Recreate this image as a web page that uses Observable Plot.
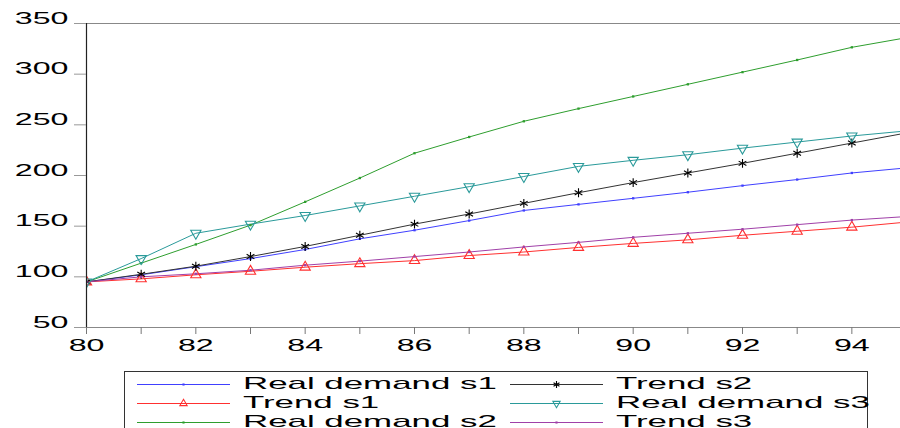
<!DOCTYPE html>
<html><head><meta charset="utf-8">
<script src="https://cdn.jsdelivr.net/npm/d3@7"></script>
<script src="https://cdn.jsdelivr.net/npm/@observablehq/plot@0.6"></script>
<style>
body{margin:0;background:#fff;overflow:hidden;width:900px;height:428px;font-family:"Liberation Sans",Arial,sans-serif}
#wrap{position:relative;width:900px;height:428px;overflow:hidden}
#chart{position:absolute;left:0;top:0}
#legend{position:absolute;left:124px;top:371px;width:744px;height:80px;border:1px solid #333;box-sizing:border-box;background:#fff}
.item{position:absolute;height:20px;width:360px}
.item svg{position:absolute;left:0;top:0}
.item span{position:absolute;left:106px;top:0;font-size:17px;line-height:20px;white-space:nowrap;color:#000;display:inline-block;transform:scaleX(2.05);transform-origin:0 50%}
</style>
</head><body>
<div id="wrap"><div id="chart"></div><div id="legend"></div></div>
<script>
const years = [80,81,82,83,84,85,86,87,88,89,90,91,92,93,94,95];
const realDemandS1 = [95,102,110,118,127,137.5,146,155.5,165.5,171.5,177.5,183.5,190,196,202.5,207.5];
const trendS1      = [95,98,102,105.5,109.5,113,116,121,124.5,129,133,136.5,141,145,149,154];
const realDemandS2 = [95,113.5,132,151,174,197.5,222,238,253.5,266,278,290,302,314,326.5,336];
const trendS2      = [95,102.5,110.5,120,130,141,152,162,172.5,183,193,202.5,212,222,232,242];
const realDemandS3 = [95,118,143,152,160.5,170,179.5,189,199,209,215,220.5,227,233,239,244];
const trendS3      = [95,100,103,106.5,111.5,115.5,120,124.5,129.5,134,139,143,147,151.5,156,159.5];
const yTicks = [50,100,150,200,250,300,350];
const xTicks = [80,81,82,83,84,85,86,87,88,89,90,91,92,93,94];

const sqrt3 = Math.sqrt(3);
const triangleDown = {draw(ctx, size){
  const y = -Math.sqrt(size / (sqrt3 * 3));
  ctx.moveTo(0, -y * 2); ctx.lineTo(-sqrt3 * y, y); ctx.lineTo(sqrt3 * y, y); ctx.closePath();
}};

const series = [
  {name:"Real demand s1", values: realDemandS1, color:"#4040ff", symbol:"square", r:1.3, lr:1.2, filled:true},
  {name:"Trend s1",       values: trendS1,      color:"#ff3030", symbol:"triangle", r:3.8, lr:2.7, filled:false},
  {name:"Real demand s2", values: realDemandS2, color:"#2e9e2e", symbol:"square", r:1.3, lr:1.2, filled:true},
  {name:"Trend s2",       values: trendS2,      color:"#333333", symbol:"asterisk", r:4.2, lr:3.2, filled:false, dotColor:"#000"},
  {name:"Real demand s3", values: realDemandS3, color:"#2a9a9a", symbol:triangleDown, r:3.8, lr:2.7, filled:false},
  {name:"Trend s3",       values: trendS3,      color:"#a040a8", symbol:"square", r:1.3, lr:1.2, filled:true}
];

const marks = [];
for (const s of series) {
  const data = years.map((yr, i) => ({year: yr, value: s.values[i]}));
  marks.push(Plot.line(data, {x:"year", y:"value", stroke:s.color, strokeWidth:1, clip:true}));
}
for (const s of series) {
  const data = years.map((yr, i) => ({year: yr, value: s.values[i]}));
  const c = s.dotColor || s.color;
  marks.push(Plot.dot(data, {x:"year", y:"value", symbol:s.symbol, r:s.r,
    fill: s.filled ? c : "none", stroke: s.filled ? "none" : c, strokeWidth:1.1, clip:true}));
}

const plot = Plot.plot({
  width: 900, height: 371,
  marginLeft: 86, marginRight: 0, marginTop: 23, marginBottom: 44,
  style: {fontFamily:'"Liberation Sans", Arial, sans-serif', fontSize:"16.5px", background:"#fff", color:"#000"},
  x: {domain:[80, 94.89], axis:null, label:null},
  y: {domain:[50, 350], axis:null, label:null},
  marks: [
    Plot.ruleY([350], {stroke:"#888"}),
    ...marks,
    Plot.ruleY([50], {stroke:"#888"}),
    Plot.ruleX([80], {stroke:"#222", strokeWidth:1.2}),
    Plot.axisY({ticks:yTicks, tickSize:12, tickPadding:6, stroke:"#999", fill:"#000", label:null, tickFormat:d=>String(d)}),
    Plot.axisX({ticks:xTicks, tickSize:7, tickPadding:16, stroke:"#777", fill:"#000", label:null, tickFormat:d=> d % 2 === 0 ? String(d) : ""})
  ]
});
document.getElementById("chart").appendChild(plot);

// widen tick labels horizontally to match the stretched look
plot.querySelectorAll('g[aria-label="y-axis tick label"] text, g[aria-label="x-axis tick label"] text').forEach(t => {
  const tr = t.getAttribute("transform") || "";
  const x = +t.getAttribute("x") || 0, y = +t.getAttribute("y") || 0;
  t.removeAttribute("x"); t.removeAttribute("y");
  t.setAttribute("transform", `${tr} translate(${x},${y}) scale(1.95,1)`);
});

// legend
const legend = document.getElementById("legend");
const cols = [12, 385];
const rows = [2, 21, 40];
series.forEach((s, i) => {
  const col = i < 3 ? 0 : 1, row = i % 3;
  const item = document.createElement("div");
  item.className = "item";
  item.style.left = cols[col] + "px";
  item.style.top = rows[row] + "px";
  const c = s.dotColor || s.color;
  const type = typeof s.symbol === "string"
    ? {square: d3.symbolSquare, triangle: d3.symbolTriangle, asterisk: d3.symbolAsterisk}[s.symbol]
    : s.symbol;
  const path = d3.symbol(type, s.lr * s.lr * Math.PI)();
  item.innerHTML = `<svg width="94" height="20"><line x1="0" x2="93" y1="10.5" y2="10.5" stroke="${s.color}" stroke-width="1"/>` +
    `<path transform="translate(46.5,10.5)" d="${path}" fill="${s.filled ? c : "none"}" stroke="${s.filled ? "none" : c}" stroke-width="1.1"/></svg>` +
    `<span>${s.name}</span>`;
  legend.appendChild(item);
});
</script>
</body></html>
